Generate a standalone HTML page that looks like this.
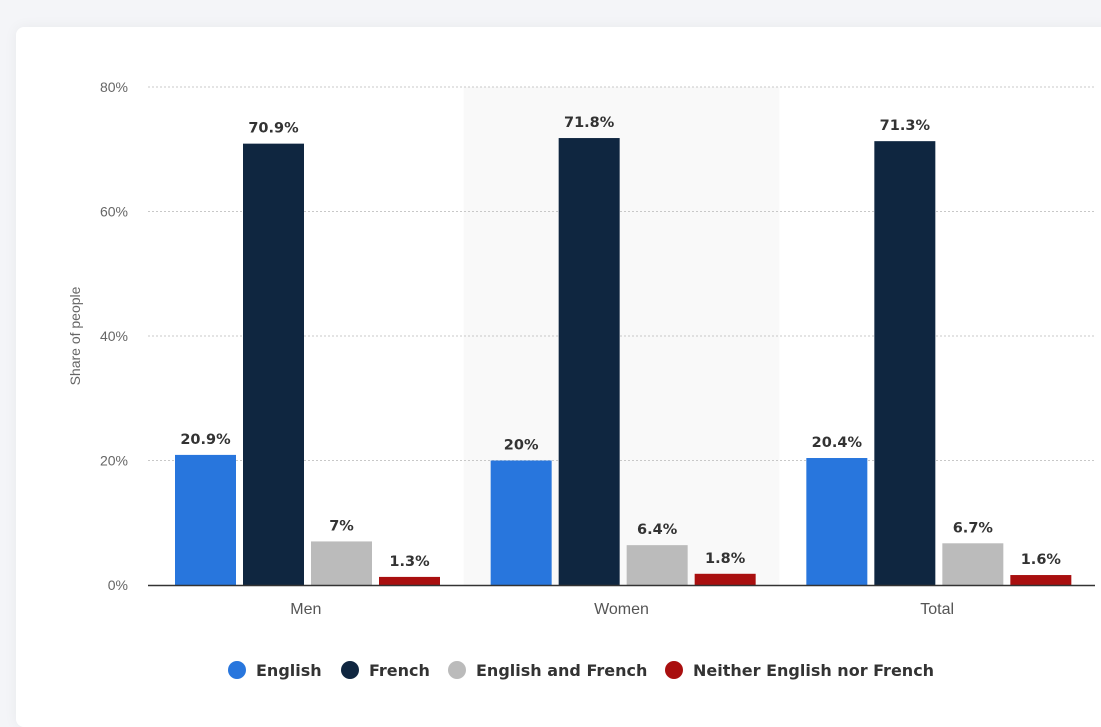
<!DOCTYPE html>
<html><head><meta charset="utf-8"><style>
body{margin:0;width:1101px;height:699px;background:#f4f5f8;overflow:hidden;font-family:"Liberation Sans",sans-serif}
#card{position:absolute;left:16px;top:27px;width:1100px;height:700px;background:#fff;border-radius:8px;box-shadow:0 0 14px rgba(0,0,0,0.05)}
svg{position:absolute;left:0;top:0}
</style></head><body>
<div id="card"></div>
<svg id="chart" width="1101" height="699"></svg>
<script>
const categories=["Men","Women","Total"];
const series=["English","French","English and French","Neither English nor French"];
const colors=["#2876dd","#0f2640","#bbbbbb","#a90f0f"];
const english=[20.9,20,20.4];
const french=[70.9,71.8,71.3];
const both=[7,6.4,6.7];
const neither=[1.3,1.8,1.6];
const labels=[["20.9%","20%","20.4%"],["70.9%","71.8%","71.3%"],["7%","6.4%","6.7%"],["1.3%","1.8%","1.6%"]];
const yTicks=[0,20,40,60,80];
const values=[english,french,both,neither];
const NS="http://www.w3.org/2000/svg";
const svg=document.getElementById('chart');
const x0=148,x1=1095,y0=585,y80=87;
const gw=(x1-x0)/categories.length;
const y=v=>y0-(v/80)*(y0-y80);
const BF='"DejaVu Sans", sans-serif';
function el(t,a,txt){const e=document.createElementNS(NS,t);for(const k in a)e.setAttribute(k,a[k]);if(txt!==undefined)e.textContent=txt;svg.appendChild(e);return e;}
let hb=el('rect',{x:x0+gw,y:y80,width:gw,height:y0-y80,fill:'#f9f9f9'});


yTicks.forEach(t=>{
 if(t>0){const g=el('line',{x1:x0,x2:x1,y1:y(t),y2:y(t),stroke:'#c8c8c8','stroke-dasharray':'2,2'});
 
 }
 const l=el('text',{x:128,y:y(t)+5,'text-anchor':'end','font-size':'14',fill:'#666'},t+'%');
 
 
});
const yt=el('text',{transform:'translate(80,336) rotate(-90)','text-anchor':'middle','font-size':'14',fill:'#666'},'Share of people');


categories.forEach((c,i)=>{
 const gx=x0+gw*i;
 values.forEach((s,j)=>{
  const bx=gx+27+68*j, v=s[i];
  const r=el('rect',{x:bx,y:y(v),width:61,height:y0-y(v),fill:colors[j]});
  
  
  const t=el('text',{x:bx+30.5,y:y(v)-11,'text-anchor':'middle','font-size':'14.5','font-weight':'bold','font-family':BF,fill:'#333'},labels[j][i]);
  
  
 });
 const cl=el('text',{x:gx+gw/2,y:614,'text-anchor':'middle','font-size':'16',fill:'#555'},c);
 
 
});
const ax=el('line',{x1:x0,x2:x1,y1:y0+0.5,y2:y0+0.5,stroke:'#333','stroke-width':1.5});


const lx=[237,350,457,674];
series.forEach((s,j)=>{
 const c=el('circle',{cx:lx[j],cy:670,r:9,fill:colors[j]});
 
 
 const t=el('text',{x:lx[j]+19,y:676,'font-size':'16','font-weight':'bold','font-family':BF,fill:'#333'},s);
 
 
});
</script>
</body></html>
